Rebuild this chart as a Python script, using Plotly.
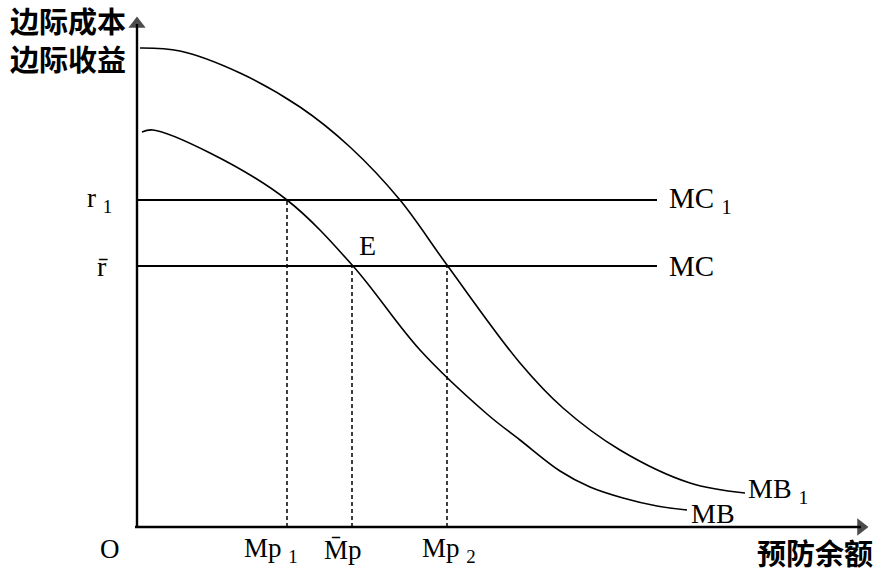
import plotly.graph_objects as go

# ---- data (units: horizontal = precautionary balance, vertical = marginal cost / benefit) ----
mb_x = [5, 16, 73, 150, 216, 283, 350, 383, 423, 453, 486, 520, 550]
mb_y = [395, 397, 374, 327, 261, 177, 113, 87, 56, 40, 29, 21, 17]

mb1_x = [3, 43, 103, 163, 213, 263, 310, 383, 426, 483, 553, 608]
mb1_y = [479, 476, 454, 420, 380, 327, 262, 164, 119, 77, 44, 34]

r1 = 327          # higher marginal cost level
r_bar = 261       # marginal cost level
mc_end = 520      # horizontal extent of the MC lines
mp1 = 150         # Mp1
mp_bar = 215      # equilibrium Mp
mp2 = 310         # Mp2
x_max, y_max = 736, 515

serif = "Liberation Serif"
cjk = "Noto Sans CJK SC"

fig = go.Figure()

curve_line = dict(color="black", width=1.6, shape="spline", smoothing=1.0)
fig.add_trace(go.Scatter(x=mb_x, y=mb_y, mode="lines", line=curve_line, hoverinfo="skip"))
fig.add_trace(go.Scatter(x=mb1_x, y=mb1_y, mode="lines", line=curve_line, hoverinfo="skip"))

# MC1 and MC horizontal lines
for lvl in (r1, r_bar):
    fig.add_trace(go.Scatter(x=[0, mc_end], y=[lvl, lvl], mode="lines",
                             line=dict(color="black", width=2), hoverinfo="skip"))

# dotted drop lines
for xv, yv in [(mp1, r1), (mp_bar, r_bar), (mp2, r_bar)]:
    fig.add_trace(go.Scatter(x=[xv, xv], y=[0, yv], mode="lines",
                             line=dict(color="black", width=1.5, dash="4px,3px"), hoverinfo="skip"))

# axes
fig.add_trace(go.Scatter(x=[0, 0], y=[0, y_max - 12], mode="lines",
                         line=dict(color="black", width=2.4), hoverinfo="skip"))
fig.add_trace(go.Scatter(x=[-2, x_max - 12], y=[0, 0], mode="lines",
                         line=dict(color="black", width=2.4), hoverinfo="skip"))
fig.add_trace(go.Scatter(x=[0], y=[y_max - 12], mode="markers",
                         marker=dict(symbol="triangle-up", size=[15], color="black", line=dict(width=0)),
                         hoverinfo="skip"))
fig.add_trace(go.Scatter(x=[x_max - 12], y=[0], mode="markers",
                         marker=dict(symbol="triangle-right", size=[15], color="black", line=dict(width=0)),
                         hoverinfo="skip"))


def label(x, y, text, size=27, family=serif, xanchor="center", yanchor="middle", weight="normal"):
    fig.add_annotation(x=x, y=y, xref="x", yref="y", text=text, showarrow=False,
                       font=dict(family=family, size=size, color="black", weight=weight),
                       xanchor=xanchor, yanchor=yanchor)


label(-69, 507, "边际成本", size=29, family=cjk, weight="bold")
label(-69, 469, "边际收益", size=29, family=cjk, weight="bold")
label(-23, r1, "r <sub>1</sub>", xanchor="right")
label(-35, r_bar, "r\u0304", size=28)
label(-27, -22, "O")
label(mp1 - 16, -23, "Mp <sub>1</sub>")
label(mp_bar - 9, -23, "M\u0304p")
label(mp2 + 2, -23, "Mp <sub>2</sub>")
label(678, -25, "预防余额", size=29, family=cjk, weight="bold")
label(mp_bar + 15, 282, "E", size=28)
label(mc_end + 10, r1, "MC <sub>1</sub>", size=29, xanchor="left")
label(mc_end + 10, r_bar, "MC", size=29, xanchor="left")
label(mb1_x[-1] + 1, 37, "MB <sub>1</sub>", size=28, xanchor="left")
label(mb_x[-1] + 2, 14, "MB", size=28, xanchor="left")

fig.update_layout(
    width=885, height=573, margin=dict(l=0, r=0, t=0, b=0),
    paper_bgcolor="white", plot_bgcolor="white", showlegend=False,
    xaxis=dict(range=[-137, 748], visible=False, fixedrange=True),
    yaxis=dict(range=[-46, 527], visible=False, fixedrange=True),
)

fig.write_html("out.html")
